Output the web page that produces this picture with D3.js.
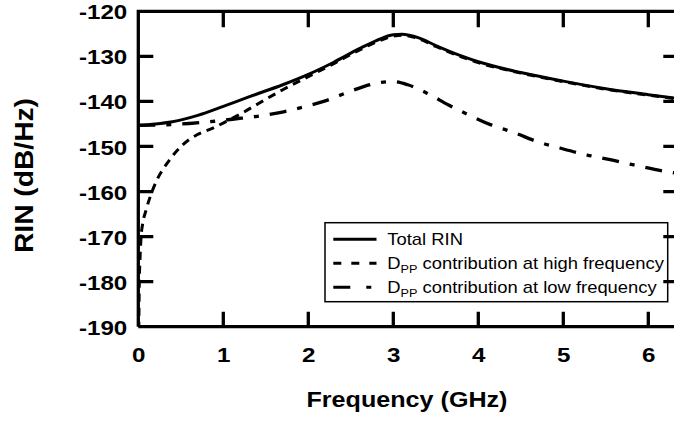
<!DOCTYPE html>
<html>
<head>
<meta charset="utf-8">
<script src="https://cdn.jsdelivr.net/npm/d3@7"></script>
<style>
  html, body { margin: 0; padding: 0; background: #fff; }
  svg { display: block; font-family: "Liberation Sans", Arial, Helvetica, sans-serif; }
</style>
</head>
<body>
<svg id="chart" width="674" height="421" viewBox="0 0 674 421"></svg>
<script>
// ---- data ----
const totalFreq = [0, 0.2, 0.4, 0.7, 1.0, 1.3, 1.7, 2.0, 2.3, 2.6, 2.8, 3.0, 3.1, 3.3, 3.5, 3.8, 4.0, 4.5, 5.0, 5.5, 6.0, 6.36];
const totalRIN  = [-145.3, -145.0, -144.5, -143.1, -141.1, -139.0, -136.3, -134.0, -131.3, -128.3, -126.5, -125.2, -125.1, -125.9, -127.6, -129.9, -131.2, -133.6, -135.5, -137.2, -138.5, -139.4];

const highFreq = [0.002, 0.012, 0.02, 0.033, 0.05, 0.09, 0.15, 0.22, 0.34, 0.52, 0.69, 0.87, 1.03, 1.22, 1.42, 1.7, 2.0, 2.3, 2.6, 2.8, 3.0, 3.1, 3.3, 3.5, 3.8, 4.0, 4.5, 5.0, 5.5, 6.0, 6.36];
const highRIN  = [-200, -180, -175, -170, -167.3, -164.2, -160.6, -157.4, -153.7, -149.7, -147.4, -146.0, -144.5, -142.6, -140.4, -137.4, -134.5, -131.6, -128.6, -126.8, -125.5, -125.3, -126.1, -127.8, -130.1, -131.4, -133.7, -135.6, -137.3, -138.6, -139.5];

const lowFreq = [0, 0.3, 0.6, 0.9, 1.13, 1.4, 1.71, 1.95, 2.18, 2.42, 2.65, 2.85, 3.0, 3.17, 3.42, 3.65, 3.91, 4.15, 4.42, 4.69, 4.97, 5.28, 5.52, 5.83, 6.22, 6.36];
const lowRIN  = [-145.3, -145.2, -144.9, -144.4, -143.9, -143.3, -142.3, -141.2, -140.0, -138.3, -136.7, -135.8, -135.6, -136.3, -138.4, -140.8, -143.2, -145.2, -146.9, -148.9, -150.4, -151.9, -152.8, -154.1, -155.6, -156.0];

const xTicks = [0, 1, 2, 3, 4, 5, 6];
const yTicks = [-190, -180, -170, -160, -150, -140, -130, -120];

const seriesNames = ["Total RIN", "contribution at high frequency", "contribution at low frequency"];
const xTitle = "Frequency (GHz)";
const yTitle = "RIN (dB/Hz)";

// ---- layout ----
const svg = d3.select("#chart");
const mLeft = 138.3, mTop = 11.3, plotW = 540, plotH = 315.4;
const xMax = 6.353;
const xs = d3.scaleLinear().domain([0, xMax]).range([mLeft, mLeft + plotW]);
const ys = d3.scaleLinear().domain([-190, -120]).range([mTop + plotH, mTop]);
const STRETCH = 1.15;
const fmt = d => String(d);

function stretch(sel) {
  sel.each(function () {
    const t = d3.select(this);
    const tx = +t.attr("x") || 0;
    t.attr("x", 0).attr("transform", `translate(${tx},0) scale(${STRETCH},1)`);
  });
}

svg.append("defs").append("clipPath").attr("id", "clip")
  .append("rect").attr("x", mLeft).attr("y", mTop).attr("width", plotW).attr("height", plotH);

// axis labels
const gB = svg.append("g").attr("transform", `translate(0,${ys(-190)})`)
  .call(d3.axisBottom(xs).tickValues(xTicks).tickFormat(fmt).tickSize(0).tickPadding(20));
const gL = svg.append("g").attr("transform", `translate(${xs(0)},0)`)
  .call(d3.axisLeft(ys).tickValues(yTicks).tickFormat(fmt).tickSize(0).tickPadding(11));
[gB, gL].forEach(g => {
  g.select(".domain").remove();
  g.selectAll(".tick line").remove();
  g.selectAll(".tick text").attr("fill", "#000").attr("font-size", 21).attr("font-weight", "bold")
    .attr("font-family", '"Liberation Sans", Arial, sans-serif');
});
gL.selectAll(".tick text").attr("dy", "0.36em");
stretch(gL.selectAll(".tick text"));
stretch(gB.selectAll(".tick text"));

const X0 = xs(0), X1 = xs(xMax), YB = ys(-190), YT = ys(-120);
const TL = 15;

// curves
const line = d3.line().x(d => xs(d[0])).y(d => ys(d[1])).curve(d3.curveMonotoneX);
const plot = svg.append("g").attr("clip-path", "url(#clip)");
plot.append("path").datum(d3.zip(totalFreq, totalRIN)).attr("d", line)
  .attr("fill", "none").attr("stroke", "#000").attr("stroke-width", 3);
plot.append("path").datum(d3.zip(highFreq, highRIN)).attr("d", line)
  .attr("fill", "none").attr("stroke", "#000").attr("stroke-width", 3).attr("stroke-dasharray", "8,6");
plot.append("path").datum(d3.zip(lowFreq, lowRIN)).attr("d", line)
  .attr("fill", "none").attr("stroke", "#000").attr("stroke-width", 3.3).attr("stroke-dasharray", "17,11,5,11");

// axis titles
svg.append("text").attr("x", 407).attr("y", 407).attr("text-anchor", "middle")
  .attr("font-size", 22).attr("font-weight", "bold").attr("textLength", 201).attr("lengthAdjust", "spacingAndGlyphs")
  .text(xTitle);
svg.append("text").attr("transform", "translate(33.3,175.5) rotate(-90)").attr("text-anchor", "middle")
  .attr("font-size", 25).attr("font-weight", "bold").attr("textLength", 155).attr("lengthAdjust", "spacingAndGlyphs")
  .text(yTitle);

// legend
const lg = svg.append("g");
lg.append("rect").attr("x", 325).attr("y", 222.7).attr("width", 342.7).attr("height", 79)
  .attr("fill", "#fff").attr("stroke", "#000").attr("stroke-width", 1.5);
const rowsY = [239.3, 263.3, 287.3];
const dashes = [null, "8,10", "17,16,5,16"];
rowsY.forEach((ry, i) => {
  lg.append("line").attr("x1", 333.3).attr("x2", 376.5).attr("y1", ry).attr("y2", ry)
    .attr("stroke", "#000").attr("stroke-width", 3).attr("stroke-dasharray", dashes[i]);
  const t = lg.append("text").attr("transform", `translate(387.3,${ry + 5.5}) scale(${STRETCH},1)`)
    .attr("font-size", 16);
  if (i === 0) {
    t.text(seriesNames[0]);
  } else {
    t.append("tspan").text("D");
    t.append("tspan").attr("font-size", 11).attr("dy", 4).text("PP");
    t.append("tspan").attr("dy", -4).text(" " + seriesNames[i]);
  }
});

// frame drawn as four "comb" polylines: each side walks along the axis and
// steps inward at every tick, so the tick marks are part of the axis stroke
const yIn = yTicks.slice(1, -1);
const xIn = xTicks.slice(1);
const path = d3.path();
// left side: bottom -> top
path.moveTo(X0, YB);
yIn.forEach(v => { path.lineTo(X0, ys(v)); path.lineTo(X0 + TL, ys(v)); path.lineTo(X0, ys(v)); });
path.lineTo(X0, YT);
// top side: left -> right
xIn.forEach(v => { path.lineTo(xs(v), YT); path.lineTo(xs(v), YT + TL + 1); path.lineTo(xs(v), YT); });
path.lineTo(X1, YT);
// right side: top -> bottom
yIn.slice().reverse().forEach(v => { path.lineTo(X1, ys(v)); path.lineTo(X1 - TL, ys(v)); path.lineTo(X1, ys(v)); });
path.lineTo(X1, YB);
// bottom side: right -> left
xIn.slice().reverse().forEach(v => { path.lineTo(xs(v), YB); path.lineTo(xs(v), YB - TL); path.lineTo(xs(v), YB); });
path.lineTo(X0, YB);
svg.append("path").attr("d", path.toString())
  .attr("fill", "none").attr("stroke", "#000").attr("stroke-width", 3.3)
  .attr("stroke-linejoin", "miter").attr("stroke-miterlimit", 2);
</script>
</body>
</html>
